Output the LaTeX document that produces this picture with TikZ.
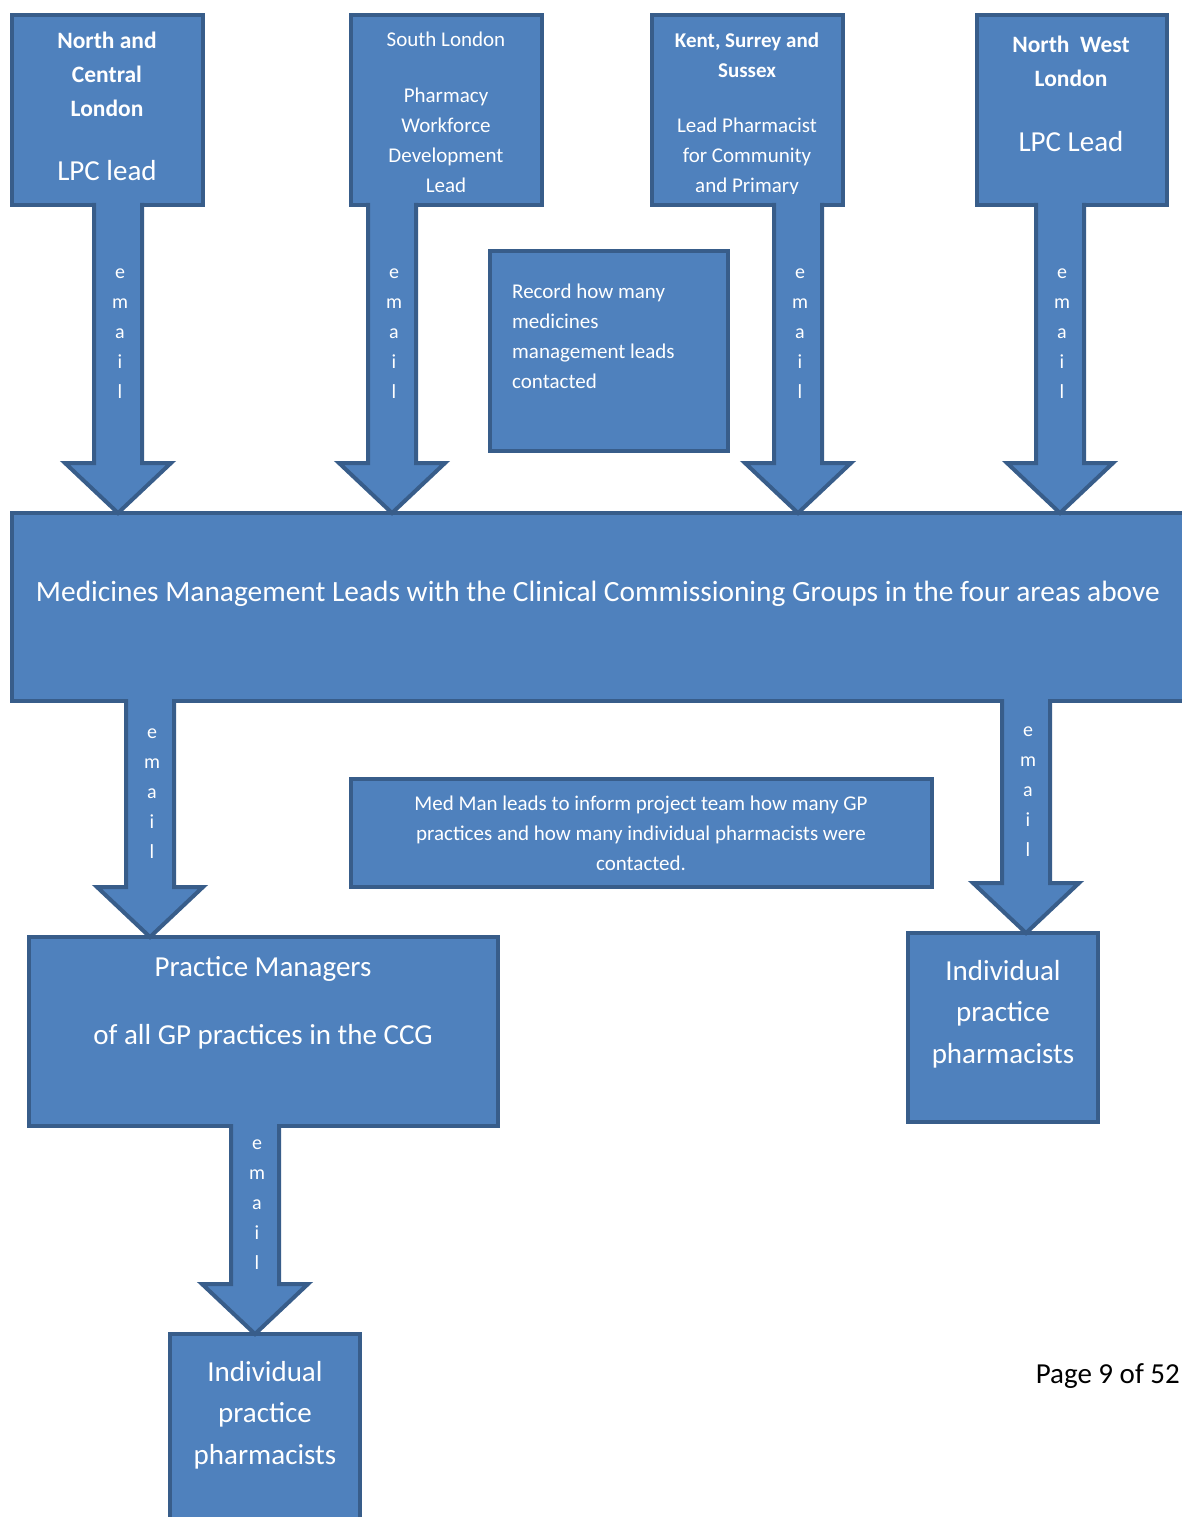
\documentclass[tikz,border=0pt]{standalone}
\usepackage{fontspec}
\setmainfont{Carlito}
\usetikzlibrary{calc}

\definecolor{boxfill}{HTML}{4F81BD}
\definecolor{boxline}{HTML}{385D8A}

\tikzset{
  box/.style={rectangle, draw=boxline, fill=boxfill, line width=4pt,
    anchor=north west, inner sep=0pt, outer sep=0pt},
  boxtxt/.style={text=white, align=center, inner sep=0pt, anchor=base},
  mailtxt/.style={text=white, align=center, inner sep=0pt,
    font=\fontsize{20}{30}\selectfont},
  mailshape/.style={draw=boxline, fill=boxfill, line width=4pt, line join=miter},
}

% block arrow: #1 x position, #2 from node, #3 to node
\newcommand{\emailarrow}[3]{%
  \draw[mailshape] let \p0=(#1,0), \p1=(#2.south), \p2=(#3.north) in
    (\x0-24pt,\y1+2pt) -- (\x0-24pt,\y2+50pt) -- (\x0-53pt,\y2+50pt) -- (\x0,\y2)
    -- (\x0+53pt,\y2+50pt) -- (\x0+24pt,\y2+50pt) -- (\x0+24pt,\y1+2pt)
    node[mailtxt] (#2-#3-mail) at (\x0+2pt,{(\y1+\y2+50pt)/2}) {e\\m\\a\\i\\l};
}

\begin{document}
\begin{tikzpicture}[x=1pt, y=-1pt]
    \clip (0,0) rectangle (1182,1517);
    \fill[white] (0,0) rectangle (1182,1517);

    % Draw boxes
    \node[box, minimum width=191pt, minimum height=190pt] (nc) at (12,15) {};
    \node[box, minimum width=191pt, minimum height=190pt] (sl) at (351,15) {};
    \node[box, minimum width=191pt, minimum height=190pt] (kss) at (652,15) {};
    \node[box, minimum width=190pt, minimum height=190pt] (nwl) at (977,15) {};
    \node[box, minimum width=238pt, minimum height=200pt] (rec) at (490,251) {};
    \node[box, minimum width=1200pt, minimum height=188pt] (mml) at (12,513) {};
    \node[box, minimum width=581pt, minimum height=108pt] (medman) at (351,779) {};
    \node[box, minimum width=469pt, minimum height=189pt] (pm) at (29,937) {};
    \node[box, minimum width=190pt, minimum height=189pt] (ipr) at (908,933) {};
    \node[box, minimum width=190pt, minimum height=250pt] (ipb) at (170,1334) {};

    % Box texts (placed at the baseline of their last line)
    \node[boxtxt, font=\bfseries\fontsize{23.5}{34}\selectfont] (nc-head) at (107,116.5) {North and\\Central\\London};
    \node[boxtxt, font=\fontsize{29}{35}\selectfont] (nc-role) at (107,181) {LPC lead};
    \node[boxtxt, font=\fontsize{21}{30}\selectfont] (sl-txt) at (446,193) {South London\\[26pt]Pharmacy\\Workforce\\Development\\Lead};
    \node[boxtxt, font=\bfseries\fontsize{21}{30}\selectfont] (kss-head) at (747,77.5) {Kent, Surrey and\\Sussex};
    \begin{scope}
      \clip (kss.north west) rectangle ([yshift=11pt]kss.south east);
      \node[boxtxt, font=\fontsize{21}{30}\selectfont] (kss-role) at (747,193) {Lead Pharmacist\\for Community\\and Primary};
    \end{scope}
    \node[boxtxt, font=\bfseries\fontsize{23.5}{34}\selectfont] (nwl-head) at (1071,86.5) {North\ \ West\\London};
    \node[boxtxt, font=\fontsize{29}{35}\selectfont] (nwl-role) at (1071,152) {LPC Lead};
    \node[boxtxt, align=left, anchor=base west, font=\fontsize{21}{30}\selectfont] (rec-txt) at (512,388) {Record how many\\medicines\\management leads\\contacted};
    \node[boxtxt, font=\fontsize{29.4}{34}\selectfont] (mml-txt) at (598,601) {Medicines Management Leads with the Clinical Commissioning Groups in the four areas above};
    \node[boxtxt, font=\fontsize{21}{30}\selectfont] (medman-txt) at (641,870.5) {Med Man leads to inform project team how many GP\\practices and how many individual pharmacists were\\contacted.};
    \node[boxtxt, font=\fontsize{29}{34}\selectfont] (pm-txt) at (263,1044) {Practice Managers\\[34pt]of all GP practices in the CCG};
    \node[boxtxt, font=\fontsize{29}{41.5}\selectfont] (ipr-txt) at (1003,1063) {Individual\\practice\\pharmacists};
    \node[boxtxt, font=\fontsize{29}{41.5}\selectfont] (ipb-txt) at (265,1464) {Individual\\practice\\pharmacists};
    \node[anchor=base east, inner sep=0pt, font=\fontsize{29}{34}\selectfont] (page) at (1180,1383) {Page 9 of 52};

    % Draw email arrows
    \emailarrow{118}{nc}{mml}
    \emailarrow{392}{sl}{mml}
    \emailarrow{798}{kss}{mml}
    \emailarrow{1060}{nwl}{mml}
    \emailarrow{150}{mml}{pm}
    \emailarrow{1026}{mml}{ipr}
    \emailarrow{255}{pm}{ipb}
\end{tikzpicture}
\end{document}
